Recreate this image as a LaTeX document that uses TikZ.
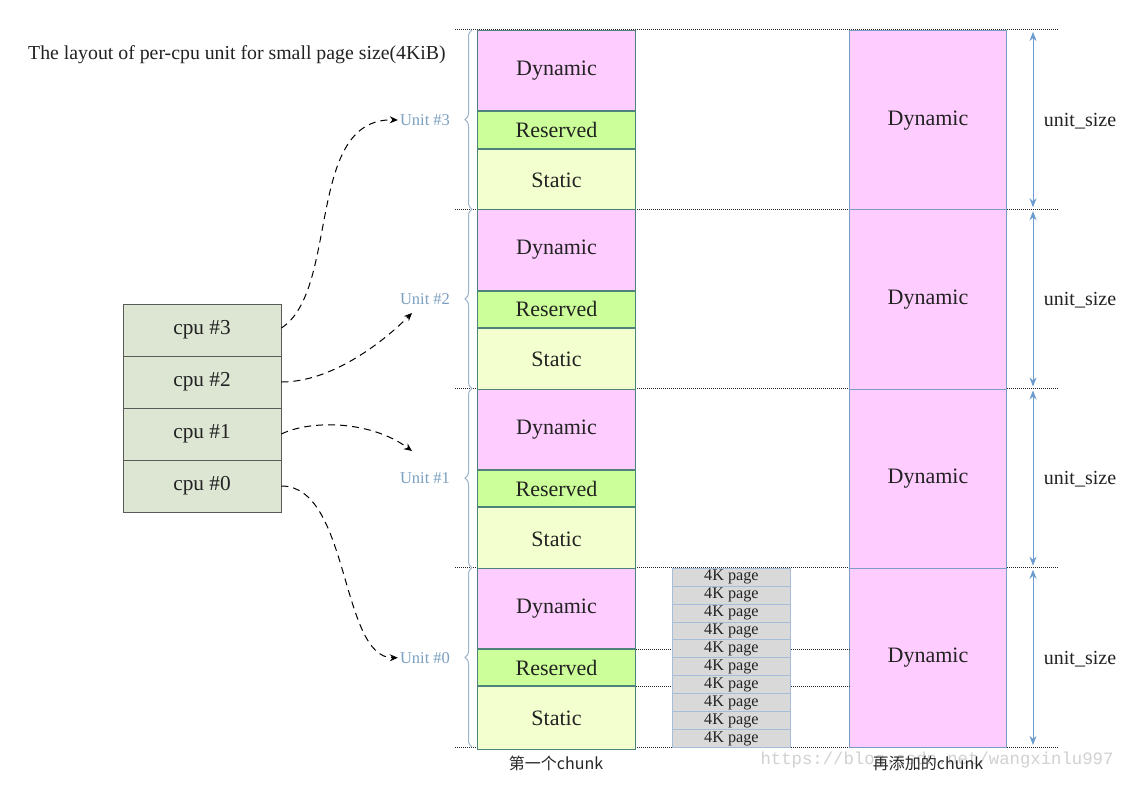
\documentclass[tikz,border=0pt]{standalone}
\usepackage{fontspec}
\setmainfont{Liberation Serif}
\newfontfamily\cjkfont{Noto Sans CJK SC}
\newfontfamily\wmfont{Liberation Mono}
\usetikzlibrary{arrows.meta,decorations.pathreplacing}
\definecolor{dyncol}{HTML}{FFCCFF}
\definecolor{rescol}{HTML}{CCFF99}
\definecolor{stacol}{HTML}{F3FFCF}
\definecolor{tealb}{HTML}{4E837B}
\definecolor{blueb}{HTML}{7A9CC6}
\definecolor{cpucol}{HTML}{DCE6D2}
\definecolor{unitcol}{HTML}{7BA0C0}
\definecolor{bracecol}{HTML}{9DB5CC}
\definecolor{pagecol}{HTML}{D9D9D9}
\definecolor{pageb}{HTML}{A6BDD9}
\definecolor{sizecol}{HTML}{6C9BCF}
\definecolor{txtcol}{HTML}{222222}
\begin{document}
\begin{tikzpicture}[x=1pt,y=-1pt,
  blk/.style={draw=tealb, line width=1pt, inner sep=0pt, anchor=north west,
    minimum width=158pt, text=txtcol, font=\fontsize{22}{24}\selectfont},
  blktwo/.style={draw=blueb, line width=1pt, fill=dyncol, inner sep=0pt, anchor=north west,
    minimum width=157pt, minimum height=179.25pt, text=txtcol, font=\fontsize{22}{24}\selectfont},
  cpubox/.style={draw=black!65, line width=0.8pt, fill=cpucol, inner sep=0pt,
    minimum width=158pt, minimum height=52pt, text=txtcol, font=\fontsize{21.3}{24}\selectfont},
  pagebox/.style={draw=pageb, line width=0.8pt, fill=pagecol, inner sep=0pt, anchor=north west,
    minimum width=118pt, minimum height=17.925pt, text=txtcol, font=\fontsize{16.2}{17}\selectfont},
  unitlbl/.style={text=unitcol, inner sep=2pt, font=\fontsize{16.5}{18}\selectfont},
  sizelbl/.style={text=txtcol, font=\fontsize{20}{22}\selectfont},
  dotline/.style={densely dotted, line width=1pt, black!85},
  bracedeco/.style={draw=bracecol, line width=1pt, decorate, decoration={brace, amplitude=7pt}},
  sizearrow/.style={draw=sizecol, line width=1pt, {Stealth[length=9pt,width=7pt]}-{Stealth[length=9pt,width=7pt]}},
  dasharrow/.style={draw=black, line width=1pt, dash pattern=on 7pt off 5pt, -{Stealth[length=8pt,width=7pt]}},
  cjklbl/.style={text=black!85, font=\cjkfont\fontsize{16}{18}\selectfont}
]
\useasboundingbox (0,0) rectangle (1137,789);
\fill[white] (0,0) rectangle (1137,789);

% watermark
\node[text=black!18, font=\wmfont\fontsize{17.3}{19}\selectfont] (wm) at (937,760) {https://blog.csdn.net/wangxinlu997};

% dotted unit boundaries
\foreach \yy in {30,209.25,388.5,567.75,747}
  \draw[dotline] (455,\yy) -- (1058,\yy);

% title
\node[anchor=west, inner sep=0pt, text=txtcol, font=\fontsize{19.8}{22}\selectfont] (title) at (28,55)
  {The layout of per-cpu unit for small page size(4KiB)};

% units
\foreach \i [count=\k from 0] in {3,2,1,0} {
  \pgfmathsetmacro\ytop{30+\k*179.25}
  \node[blk, fill=dyncol, minimum height=80.5pt] (dyn\i) at (477,\ytop) {Dynamic};
  \node[blk, fill=rescol, minimum height=36pt] (res\i) at (dyn\i.south west) {Reserved};
  \node[blk, fill=stacol, minimum height=62.75pt] (sta\i) at (res\i.south west) {Static};
  \node[blktwo] (dd\i) at (849,\ytop) {Dynamic};
  \draw[bracedeco] (472,{\ytop+179.25}) -- (472,\ytop);
  \node[unitlbl] (u\i) at (425,{\ytop+90}) {Unit \#\i};
  \draw[sizearrow] (1033,{\ytop+2}) -- (1033,{\ytop+177.25});
  \node[sizelbl] (us\i) at (1080,{\ytop+91}) {unit\_size};
}

% 4K pages
\foreach \j in {0,...,9}
  \node[pagebox] (p\j) at (672,{567.75+\j*17.925}) {4K page};

% dotted links from reserved boundaries
\draw[dotline] (res0.north east) -- (res0.north east -| p0.west);
\draw[dotline] (res0.north -| p0.east) -- (res0.north -| dd0.west);
\draw[dotline] (sta0.north east) -- (sta0.north east -| p0.west);
\draw[dotline] (sta0.north -| p0.east) -- (sta0.north -| dd0.west);

% cpus
\node[cpubox] (c3) at (202,330) {cpu \#3};
\node[cpubox] (c2) at (202,382) {cpu \#2};
\node[cpubox] (c1) at (202,434) {cpu \#1};
\node[cpubox] (c0) at (202,486) {cpu \#0};

\coordinate (a2) at (412,313);
\coordinate (a1) at (412,451);
\draw[dasharrow] ([yshift=2pt]c3.east) .. controls (340,290) and (305,118) .. (u3.west);
\draw[dasharrow] (c2.east) .. controls (330,382) and (380,345) .. (a2);
\draw[dasharrow] (c1.east) .. controls (310,420) and (370,420) .. (a1);
\draw[dasharrow] (c0.east) .. controls (350,486) and (340,658) .. (u0.west);

% chunk labels
\node[cjklbl] (l1) at (556,763) {第一个chunk};
\node[cjklbl] (l2) at (928,763) {再添加的chunk};
\end{tikzpicture}
\end{document}
